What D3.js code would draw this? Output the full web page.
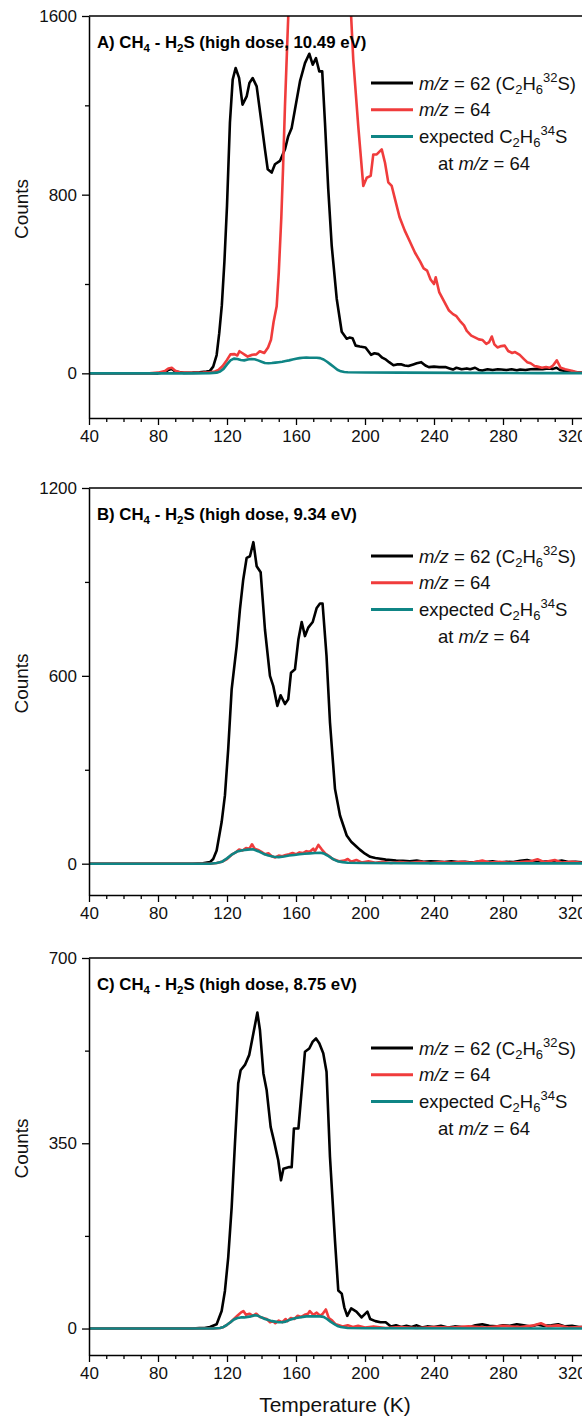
<!DOCTYPE html>
<html>
<head>
<meta charset="utf-8">
<script src="https://cdn.jsdelivr.net/npm/d3@7"></script>
<style>
  html, body { margin: 0; padding: 0; background: #fff; }
  svg { display: block; font-family: "Liberation Sans", Arial, sans-serif; }
</style>
</head>
<body>
<svg id="chart" width="582" height="1421"></svg>
<script>
// ---------------- data ----------------
const xMajorTicks = [40, 80, 120, 160, 200, 240, 280, 320];
const panelLetters = ["A", "B", "C"];
const panelEnergies = ["10.49 eV", "9.34 eV", "8.75 eV"];
const yMaxes = [1600, 1200, 700];
const yMins = [-200, -100, -50];
const yMajorTicksA = [0, 800, 1600];
const yMajorTicksB = [0, 600, 1200];
const yMajorTicksC = [0, 350, 700];
const seriesNames = ["m/z = 62 (C2H6 32S)", "m/z = 64", "expected C2H6 34S at m/z = 64"];

// Panel A (10.49 eV)
const blackA = [[40,0],[80,0],[84,5],[86,15],[88,20],[90,8],[95,2],[100,3],[104,5],[108,8],[110,10],[112,30],[114,82],[115.5,180],[117,304],[118.5,500],[120,750],[121.7,1123],[123.3,1315],[125,1367],[127,1323],[129,1203],[131.4,1240],[133,1300],[134.9,1322],[137.2,1285],[140,1122],[142,1003],[143.6,914],[145.9,899],[147.8,936],[150.7,951],[153.6,1003],[155.5,1062],[157.5,1099],[159.4,1181],[162.3,1307],[165.2,1389],[167.7,1431],[169.7,1382],[171.6,1411],[173.5,1352],[175.2,1352],[176.8,1122],[178.7,824],[180.7,572],[183.6,334],[186.5,186],[189.4,155],[191,160],[192.8,157],[194.6,124],[197,120],[200.3,116],[203.5,83],[205.5,90],[207.8,86],[210,70],[212.2,61],[214,50],[216.5,36],[218.5,40],[220.8,41],[223,35],[225.1,33],[228,40],[230,45],[232.6,50],[235,35],[237,28],[240,30],[243,28],[246.6,28],[249,22],[251,17],[253,25],[256,18],[259,22],[261,18],[263.8,25],[266,15],[268,13],[271,18],[274,15],[277,18],[279,17],[282,15],[285,18],[288,14],[290,17],[293,15],[296,18],[300,20],[303,18],[306,22],[309,20],[311,25],[313,15],[316,10],[319,8],[322,5],[326,3],[330,2],[340,0]];
const redA = [[40,0],[75,0],[80,3],[84,10],[86,22],[88,25],[90,12],[93,3],[100,2],[106,3],[110,5],[113,8],[115,15],[117.5,33],[120,60],[122,85],[124.4,86],[126,80],[127.2,99],[129,90],[130.4,83],[132,75],[134.7,83],[137,85],[139,99],[141.6,91],[143.8,116],[145.5,150],[147,230],[148.8,300],[150,450],[151.5,700],[152.5,920],[153.6,1196],[155,1493],[156,1700],[158,2100],[162,2600],[170,3000],[180,2800],[187,2300],[191,1750],[193.2,1404],[196.1,1106],[199,839],[201,876],[203.3,884],[204.8,980],[206.8,980],[209.7,1003],[211.6,943],[213.5,855],[215.5,839],[217.4,780],[220,700],[223,640],[226,590],[229,540],[232,500],[234,470],[236,460],[238,420],[240,400],[241,430],[243,364],[246,320],[248.7,281],[251,265],[253,256],[255,235],[257.4,215],[259,190],[261.6,169],[264,160],[266,152],[268.2,149],[270.3,132],[272,140],[273.5,165],[275,130],[276.8,116],[279,122],[281,124],[283,100],[285.3,91],[287,95],[289.7,83],[292,65],[294,50],[296,45],[298.3,33],[300,30],[302.6,25],[305,28],[307,25],[309,35],[311.2,58],[313.4,25],[316,18],[319.8,12],[323,5],[326,3],[330,2],[340,0]];
const tealA = [[40,0],[100,0],[110,1],[114,3],[116,8],[118,20],[120,40],[122,58],[124,66],[126,64],[128,60],[130,58],[132,62],[134,64],[136,63],[138,58],[140,52],[142,46],[144,45],[146,46],[148,48],[150,50],[152,52],[154,55],[156,58],[158,62],[160,65],[162,68],[164,70],[166,71],[168,70],[170,70],[172,70],[174,68],[176,62],[178,52],[180,40],[182,28],[184,16],[186,9],[188,6],[190,5],[200,4],[220,3],[260,2],[300,1],[340,1]];

// Panel B (9.34 eV)
const blackB = [[40,0],[100,0],[106,1],[110.1,5],[112,15],[114,42],[116.9,133],[118.8,218],[120.7,366],[122.7,557],[125.6,695],[127.5,812],[129.4,907],[131.4,977],[133.3,982],[135.3,1027],[137.2,950],[139.5,931],[142,748],[144.9,600],[146.8,568],[149.2,504],[151.1,538],[153.6,510],[155.5,525],[157.1,610],[159.4,621],[161.4,717],[163.3,772],[165.2,727],[167.1,754],[169.7,772],[172,817],[173.9,831],[175.4,831],[177.7,663],[179.7,451],[182.6,239],[185.5,154],[189.4,90],[192,70],[195,55],[197,45],[200,32],[203,22],[206,18],[209,16],[212,13],[215,12],[218,10],[222,9],[226,8],[230,10],[234,6],[238,8],[242,7],[246,5],[250,8],[254,5],[258,6],[262,4],[266,7],[270,5],[274,8],[278,4],[282,6],[286,5],[290,9],[294,12],[298,6],[302,5],[306,8],[310,6],[314,10],[318,5],[322,6],[326,4],[330,5],[340,3]];
const redB = [[40,0],[110,0],[114,2],[117,6],[120,15],[123,30],[125,36],[127,45],[129,42],[131,50],[133,48],[134.5,62],[136,48],[138,44],[140,38],[142,30],[144,33],[146,24],[148,20],[150,26],[152,24],[154,28],[156,30],[158,34],[160,30],[162,36],[164,34],[166,40],[168,38],[170,48],[171,40],[173,60],[175,45],[177,32],[179,25],[181,16],[183,12],[185,8],[188,10],[190,15],[192,6],[195,12],[198,4],[202,8],[206,3],[210,6],[215,2],[220,5],[226,3],[232,6],[238,2],[244,5],[250,3],[256,6],[262,3],[268,10],[272,4],[278,6],[284,3],[290,5],[296,8],[300,14],[304,5],[310,12],[314,4],[320,6],[326,3],[332,4],[340,2]];
const tealB = [[40,0],[110,0],[114,2],[117,6],[120,17],[123,30],[126,39],[129,43],[132,45],[135,46],[138,40],[141,32],[144,26],[147,22],[150,21],[153,23],[156,26],[159,28],[162,30],[165,32],[168,33],[171,34],[174,35],[176,33],[178,27],[180,20],[182,13],[184,8],[187,5],[190,3],[200,2],[250,1],[340,1]];

// Panel C (8.75 eV)
const blackC = [[40,0],[100,0],[104,1],[107,1],[110.1,3],[114,8],[116.9,33],[118.8,71],[120.7,134],[122.7,229],[124.6,349],[126.5,463],[127.9,488],[130.4,498],[132.9,517],[135.3,558],[137.6,597],[139.1,564],[141.1,482],[143,450],[145.3,381],[147.2,355],[149.7,318],[151.3,280],[152.7,302],[156.1,305],[157.5,305],[158.8,378],[161.4,378],[163.3,450],[165.2,523],[167.7,529],[169.7,542],[171.6,548],[173.5,539],[175.8,520],[177.7,485],[179.7,324],[182.6,166],[184.5,72],[186.5,66],[188,40],[189.7,24],[192,38],[195,32],[198,21],[201.4,32],[203,18],[206,14],[209,12],[212,12],[215,4],[218,6],[221,3],[224,5],[227,3],[230,6],[233,2],[236,4],[240,3],[244,5],[248,2],[252,4],[256,3],[260,2],[264,6],[268,8],[272,5],[276,4],[280,6],[284,5],[288,8],[292,6],[296,4],[300,7],[304,5],[308,6],[312,8],[316,4],[320,5],[324,3],[330,2],[340,2]];
const redC = [[40,0],[112,0],[116,1],[118,3],[120,7],[122,12],[124,18],[126,24],[128,30],[129.5,33],[131,26],[133,28],[135,24],[137,28],[139,22],[141,20],[143,18],[145,12],[146.6,14],[148,10],[150,15],[152,12],[154,18],[155,14],[157,20],[159,18],[161,24],[163,22],[165,26],[167,28],[168,33],[170,26],[172,30],[174,24],[175.5,28],[177.3,36],[179,20],[181,15],[183,8],[185,6],[187,4],[190,6],[193,3],[196,5],[200,2],[205,4],[212,1],[220,3],[230,1],[240,3],[250,2],[260,4],[270,2],[280,5],[290,3],[298,6],[302,10],[306,4],[312,6],[318,2],[326,3],[340,1]];
const tealC = [[40,0],[112,0],[116,1],[118,3],[120,7],[122,12],[124,17],[126,20],[128,21],[130,21],[132,22],[134,23],[136,25],[138,24],[140,21],[142,18],[144,16],[146,14],[148,13],[150,12],[152,12],[154,13],[156,16],[158,18],[160,20],[162,21],[164,22],[166,23],[168,23],[170,23],[172,23],[174,23],[176,22],[178,18],[180,13],[182,9],[184,5],[186,3],[190,1],[200,0.5],[340,0]];

// ---------------- layout / style ----------------
const W = 582;
const xLeft = 89;
const pxPerK = 1.725;
const panelTops = [16, 488, 958];
const panelBottoms = [418, 895, 1355];
const legendOffsets = [67, 68, 90];
const colBlack = "#000000", colRed = "#f03c3c", colTeal = "#0f8585";

const svg = d3.select("#chart");
const x = d3.scaleLinear().domain([40, 340]).range([xLeft, xLeft + 300 * pxPerK]);
const xMinor = d3.range(40, 341, 10).filter(v => v % 40 !== 0);

const panels = [
  {black: blackA, red: redA, teal: tealA, ticks: yMajorTicksA},
  {black: blackB, red: redB, teal: tealB, ticks: yMajorTicksB},
  {black: blackC, red: redC, teal: tealC, ticks: yMajorTicksC},
];

panels.forEach((p, i) => {
  const top = panelTops[i], bottom = panelBottoms[i];
  const y = d3.scaleLinear().domain([yMins[i], yMaxes[i]]).range([bottom, top]);
  const g = svg.append("g");

  const cid = "clip" + i;
  svg.append("defs").append("clipPath").attr("id", cid)
    .append("rect").attr("x", xLeft).attr("y", top).attr("width", W - xLeft).attr("height", bottom - top);

  const line = d3.line().x(d => x(d[0])).y(d => y(d[1]));
  const lg = g.append("g").attr("clip-path", `url(#${cid})`);
  [[p.black, colBlack], [p.red, colRed], [p.teal, colTeal]].forEach(([data, c]) => {
    lg.append("path").datum(data).attr("d", line)
      .attr("fill", "none").attr("stroke", c).attr("stroke-width", 2.6)
      .attr("stroke-linejoin", "round").attr("stroke-linecap", "round");
  });

  const yMinorTicks = [p.ticks[1] / 2, p.ticks[1] * 1.5];
  g.append("g").attr("transform", `translate(${xLeft},0)`)
    .call(d3.axisLeft(y).tickValues(p.ticks).tickFormat(d3.format("d")).tickSize(7).tickPadding(5).tickSizeOuter(0));
  g.append("g").attr("transform", `translate(${xLeft},0)`)
    .call(d3.axisLeft(y).tickValues(yMinorTicks).tickSize(4).tickFormat("").tickSizeOuter(0))
    .select(".domain").remove();
  g.append("g").attr("transform", `translate(0,${bottom})`)
    .call(d3.axisBottom(x).tickValues(xMajorTicks).tickFormat(d3.format("d")).tickSize(7).tickPadding(5).tickSizeOuter(0));
  g.append("g").attr("transform", `translate(0,${bottom})`)
    .call(d3.axisBottom(x).tickValues(xMinor).tickSize(4).tickFormat("").tickSizeOuter(0))
    .select(".domain").remove();
  g.append("line").attr("x1", xLeft).attr("x2", W).attr("y1", top).attr("y2", top)
    .attr("stroke", "#000").attr("stroke-width", 1.5);

  g.selectAll(".domain").attr("stroke-width", 1.5);
  g.selectAll(".tick line").attr("stroke-width", 1.3);
  g.selectAll(".tick text").attr("font-size", 17).attr("fill", "#111")
    .attr("font-family", "'Liberation Sans', Arial, sans-serif");

  g.append("text").attr("transform", `translate(28,${(top + bottom) / 2 - 8}) rotate(-90)`)
    .attr("text-anchor", "middle").attr("font-size", 19).attr("fill", "#111").text("Counts");

  const t = g.append("text").attr("x", 97).attr("y", top + 32)
    .attr("font-size", 16.8).attr("font-weight", "bold").attr("fill", "#000");
  t.append("tspan").text(panelLetters[i] + ") CH");
  t.append("tspan").attr("font-size", 11.5).attr("dy", 4).text("4");
  t.append("tspan").attr("dy", -4).text(" - H");
  t.append("tspan").attr("font-size", 11.5).attr("dy", 4).text("2");
  t.append("tspan").attr("dy", -4).text("S (high dose, " + panelEnergies[i] + ")");

  const ly = top + legendOffsets[i];
  const rows = 26.8;
  const fs = 18.5;
  const sfs = 13;
  const legCols = [colBlack, colRed, colTeal];
  legCols.forEach((c, k) => {
    g.append("line").attr("x1", 371).attr("x2", 413).attr("y1", ly + k * rows).attr("y2", ly + k * rows)
      .attr("stroke", c).attr("stroke-width", 3);
  });
  const base = ly + 6.5;
  const l1 = g.append("text").attr("x", 419).attr("y", base).attr("font-size", fs).attr("fill", "#111");
  l1.append("tspan").attr("font-style", "italic").text("m/z");
  l1.append("tspan").text(" = 62 (C");
  l1.append("tspan").attr("font-size", sfs).attr("dy", 4).text("2");
  l1.append("tspan").attr("dy", -4).text("H");
  l1.append("tspan").attr("font-size", sfs).attr("dy", 4).text("6");
  l1.append("tspan").attr("font-size", sfs).attr("dy", -12).text("32");
  l1.append("tspan").attr("dy", 8).text("S)");

  const l2 = g.append("text").attr("x", 419).attr("y", base + rows).attr("font-size", fs).attr("fill", "#111");
  l2.append("tspan").attr("font-style", "italic").text("m/z");
  l2.append("tspan").text(" = 64");

  const l3 = g.append("text").attr("x", 419).attr("y", base + 2 * rows).attr("font-size", fs).attr("fill", "#111");
  l3.append("tspan").text("expected C");
  l3.append("tspan").attr("font-size", sfs).attr("dy", 4).text("2");
  l3.append("tspan").attr("dy", -4).text("H");
  l3.append("tspan").attr("font-size", sfs).attr("dy", 4).text("6");
  l3.append("tspan").attr("font-size", sfs).attr("dy", -12).text("34");
  l3.append("tspan").attr("dy", 8).text("S");

  const l4 = g.append("text").attr("x", 438).attr("y", base + 3 * rows).attr("font-size", fs).attr("fill", "#111");
  l4.append("tspan").text("at ");
  l4.append("tspan").attr("font-style", "italic").text("m/z");
  l4.append("tspan").text(" = 64");
});

svg.append("text").attr("x", 335).attr("y", 1412).attr("text-anchor", "middle")
  .attr("font-size", 21).attr("fill", "#111").text("Temperature (K)");
</script>
</body>
</html>
